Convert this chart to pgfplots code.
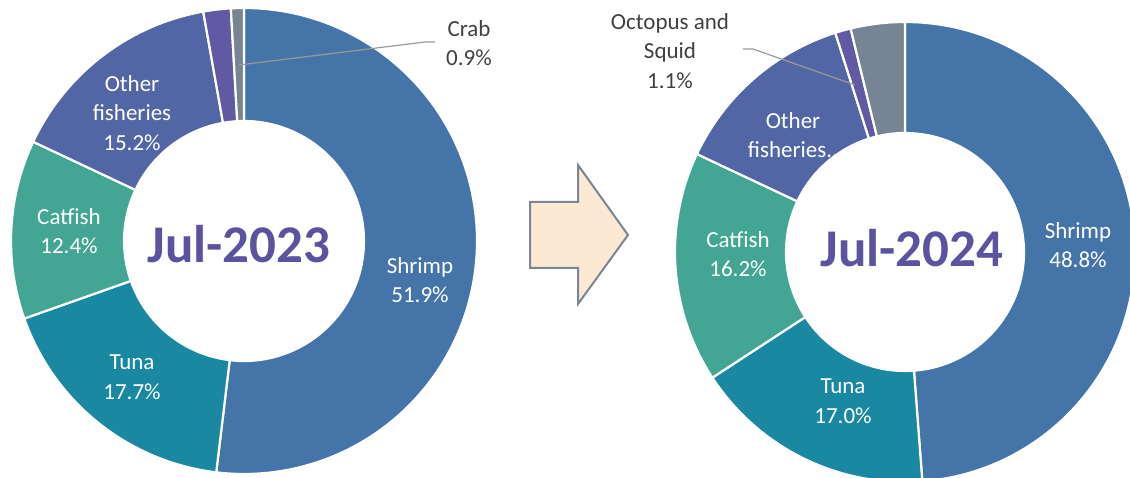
\documentclass[border=0pt]{standalone}
\usepackage{pgfplots}
\pgfplotsset{compat=1.18}
\usepackage{fontspec}
\setmainfont{Carlito}
\usetikzlibrary{calc}

\definecolor{cshrimp}{HTML}{4575A8}
\definecolor{ctuna}{HTML}{1A88A0}
\definecolor{ccatfish}{HTML}{43A593}
\definecolor{cother}{HTML}{5266A5}
\definecolor{cocto}{HTML}{6159A3}
\definecolor{ccrab}{HTML}{778495}
\definecolor{ctitle}{HTML}{5B52A0}
\definecolor{clabel}{HTML}{404040}
\definecolor{carrowfill}{HTML}{FCE9D3}
\definecolor{carrowline}{HTML}{7A8595}

% #1 cx, #2 cy, #3 outer radius, #4 inner radius, #5 start (%), #6 share (%), #7 colour
\newcommand{\donutwedge}[7]{%
  \fill[#7, draw=white, line width=2.2pt, line join=round]
    ($(axis cs:#1,#2)+({90-3.6*(#5)}:#3)$)
    arc[start angle={90-3.6*(#5)}, delta angle={-3.6*(#6)}, radius=#3]
    -- ($(axis cs:#1,#2)+({90-3.6*((#5)+(#6))}:#4)$)
    arc[start angle={90-3.6*((#5)+(#6))}, delta angle={3.6*(#6)}, radius=#4]
    -- cycle;}

\begin{document}
\begin{tikzpicture}
\useasboundingbox (0,0) rectangle (1130pt,477pt);
\clip (0,0) rectangle (1130pt,477pt);
\begin{axis}[
  x=1pt, y=1pt,
  xmin=0, xmax=1130, ymin=0, ymax=477,
  hide axis, anchor=origin, at={(0,0)},
]
% ---- Jul-2023 (shares in %) ----
\donutwedge{244}{236}{233pt}{120pt}{0}{51.9}{cshrimp}
\donutwedge{244}{236}{233pt}{120pt}{51.9}{17.7}{ctuna}
\donutwedge{244}{236}{233pt}{120pt}{69.6}{12.4}{ccatfish}
\donutwedge{244}{236}{233pt}{120pt}{82.0}{15.2}{cother}
\donutwedge{244}{236}{233pt}{120pt}{97.2}{1.9}{cocto}
\donutwedge{244}{236}{233pt}{120pt}{99.1}{0.9}{ccrab}
% ---- Jul-2024 ----
\donutwedge{905}{225}{230pt}{119pt}{0}{48.8}{cshrimp}
\donutwedge{905}{225}{230pt}{119pt}{48.8}{17.0}{ctuna}
\donutwedge{905}{225}{230pt}{119pt}{65.8}{16.2}{ccatfish}
\donutwedge{905}{225}{230pt}{119pt}{82.0}{13.1}{cother}
\donutwedge{905}{225}{230pt}{119pt}{95.1}{1.1}{cocto}
\donutwedge{905}{225}{230pt}{119pt}{96.2}{3.8}{ccrab}

% labels, left
\begin{scope}[every node/.style={align=center, text=white, font=\fontsize{23}{29.5}\selectfont}]
\node at (axis cs:420,197) {Shrimp\\51.9\%};
\node at (axis cs:132,100) {Tuna\\17.7\%};
\node at (axis cs:69,246) {Catfish\\12.4\%};
\node at (axis cs:132,364) {Other\\fisheries\\15.2\%};
% right
\node at (axis cs:1078,232) {Shrimp\\48.8\%};
\node at (axis cs:843,76) {Tuna\\17.0\%};
\node at (axis cs:738,223) {Catfish\\16.2\%};
\node at (axis cs:793,342) {Other\\fisheries..};
\end{scope}
\begin{scope}[every node/.style={align=center, text=clabel, font=\fontsize{23}{29.5}\selectfont}]
\node at (axis cs:469,434) {Crab\\0.9\%};
\node at (axis cs:670,426) {Octopus and\\Squid\\1.1\%};
\end{scope}
\draw[color=black!40, line width=1.2pt] (axis cs:435,435) -- (axis cs:425,435) -- (axis cs:239,412);
\draw[color=black!40, line width=1.2pt] (axis cs:743,428) -- (axis cs:753,428) -- (axis cs:855,392);

% centre titles
\node[anchor=base, text=ctitle, font=\fontsize{53}{60}\selectfont\bfseries] at (axis cs:239,214) {Jul-2023};
\node[anchor=base, text=ctitle, font=\fontsize{53}{60}\selectfont\bfseries] at (axis cs:912,210) {Jul-2024};

% arrow
\draw[fill=carrowfill, draw=carrowline, line width=2pt, line join=miter]
  (axis cs:530,275) -- (axis cs:578,275) -- (axis cs:578,312) -- (axis cs:628,242)
  -- (axis cs:578,173) -- (axis cs:578,209) -- (axis cs:530,209) -- cycle;
\end{axis}
\end{tikzpicture}
\end{document}
